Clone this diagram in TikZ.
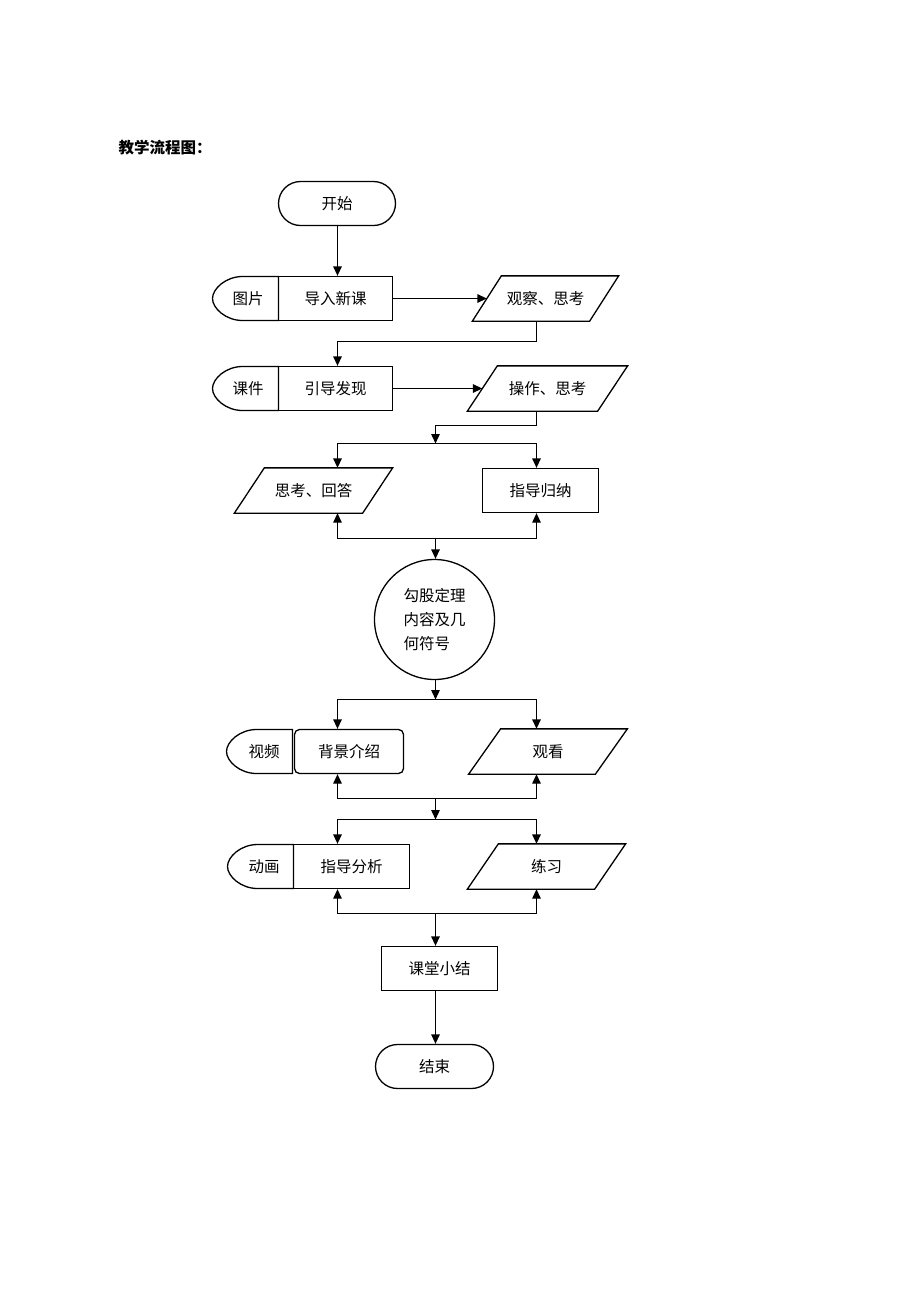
\documentclass[tikz,border=0pt]{standalone}
\usepackage{fontspec}
\newfontfamily\cjk{Noto Sans CJK SC}
\usetikzlibrary{arrows.meta,calc}
\newcommand\dleft[4]{\draw (#1,#3) -- ({#2+30},#3) .. controls ({#2+13.4},#3) and (#2,{#3+0.5523*(#4-#3)/2}) .. (#2,{(#3+#4)/2}) .. controls (#2,{#4-0.5523*(#4-#3)/2}) and ({#2+13.4},#4) .. ({#2+30},#4) -- (#1,#4) -- cycle;}
\newcommand\para[2]{\draw ([xshift=#2]#1.north west) -- ([xshift=#2]#1.north east) -- ([xshift=-#2]#1.south east) -- ([xshift=-#2]#1.south west) -- cycle;}
\begin{document}
\begin{tikzpicture}[x=1pt,y=-1pt, line width=1.3pt,
 every node/.style={font=\cjk\fontsize{15.5}{24}\selectfont, inner sep=0pt},
 box/.style={draw, minimum height=44pt},
 pbox/.style={minimum height=44pt},
 arr/.style={-{Triangle[length=9.5pt,width=8.5pt]}},
 term/.style={draw, rounded corners=22pt, minimum height=44pt}]
\path[use as bounding box] (0,0) rectangle (920,1302);
\node[anchor=west, font=\cjk\bfseries\fontsize{15.5}{24}\selectfont] (title) at (118,148) {教学流程图：};
\node[term, minimum width=117pt] (start) at (337,203.5) {开始};
\node[box, minimum width=114pt] (b1) at (335.5,298.5) {导入新课};
\node (d1) at (248,298.5) {图片};
\node[pbox, minimum width=116pt] (p1) at (545.5,298.5) {观察、思考};
\node[box, minimum width=114pt] (b2) at (335.5,388.5) {引导发现};
\node (d2) at (248,388.5) {课件};
\node[pbox, minimum width=129pt] (p2) at (547.5,388.5) {操作、思考};
\node[pbox, minimum width=127pt] (p3) at (313.5,490.5) {思考、回答};
\node[box, minimum width=116pt] (r3) at (540.5,490.5) {指导归纳};
\node[draw, circle, minimum size=120pt, align=left] (circ) at (434.5,619.5) {勾股定理\\内容及几\\何符号};
\node[draw, rounded corners=5pt, minimum width=109pt, minimum height=44pt] (r4) at (349,751.5) {背景介绍};
\node (d4) at (264,751.5) {视频};
\node[pbox, minimum width=125.5pt] (p4) at (548,751.5) {观看};
\node[box, minimum width=116pt] (b5) at (351.5,866.5) {指导分析};
\node (d5) at (264,866.5) {动画};
\node[pbox, minimum width=126pt] (p5) at (546.5,866.5) {练习};
\node[box, minimum width=116pt] (sum) at (439.5,968.5) {课堂小结};
\node[term, minimum width=118pt] (end) at (434.5,1066.5) {结束};
% shapes
\dleft{278.5}{212.5}{276.5}{320.5}
\dleft{278.5}{212.5}{366.5}{410.5}
\dleft{292.5}{226.5}{729.5}{773.5}
\dleft{293.5}{227.5}{844.5}{888.5}
\para{p1}{14.5pt}
\para{p2}{15pt}
\para{p3}{15pt}
\para{p4}{16pt}
\para{p5}{15.5pt}
% columns and junctions
\coordinate (cL) at (337.5,0);
\coordinate (cR) at (536.5,0);
\coordinate (j1) at (435.5,443.5);
\coordinate (j2) at (435.5,538.5);
\coordinate (j3) at (435.5,699.5);
\coordinate (j4) at (435.5,798.5);
\coordinate (j5) at (435.5,819.5);
\coordinate (j6) at (435.5,913.5);
% connectors
\draw[arr] (cL |- start.south) -- (cL |- b1.north);
\draw[arr] (b1.east) -- (p1.west);
\draw[arr] (cR |- p1.south) -- ++(0,20) -| (cL |- b2.north);
\draw[arr] (b2.east) -- (p2.west);
\draw[arr] (cR |- p2.south) -- ++(0,14) -| (j1);
\draw[arr] (j1) -| (cL |- p3.north);
\draw[arr] (j1) -| (cR |- r3.north);
\draw[arr] (j2) -| (cL |- p3.south);
\draw[arr] (j2) -| (cR |- r3.south);
\draw[arr] (j2) -- (j2 |- circ.north);
\draw[arr] (j3 |- circ.south) -- (j3);
\draw[arr] (j3) -| (cL |- r4.north);
\draw[arr] (j3) -| (cR |- p4.north);
\draw[arr] (j4) -| (cL |- r4.south);
\draw[arr] (j4) -| (cR |- p4.south);
\draw[arr] (j4) -- (j5);
\draw[arr] (j5) -| (cL |- b5.north);
\draw[arr] (j5) -| (cR |- p5.north);
\draw[arr] (j6) -| (cL |- b5.south);
\draw[arr] (j6) -| (cR |- p5.south);
\draw[arr] (j6) -- (j6 |- sum.north);
\draw[arr] (j6 |- sum.south) -- (j6 |- end.north);
\end{tikzpicture}
\end{document}
